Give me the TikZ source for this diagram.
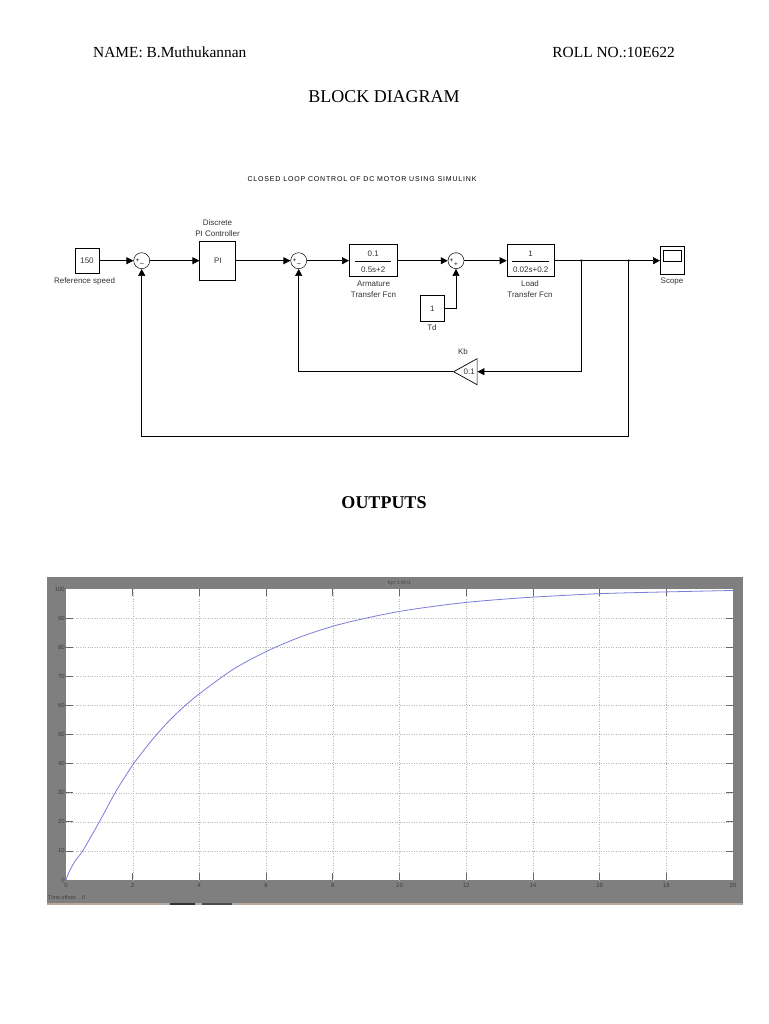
\documentclass[tikz,border=0pt]{standalone}
\usepackage{fontspec}
\setmainfont{Liberation Serif}
\setsansfont{Liberation Sans}
\usetikzlibrary{arrows.meta,shapes.geometric}

\definecolor{scopegrey}{HTML}{7F7F7F}
\definecolor{curveblue}{HTML}{7C7CDA}
\definecolor{stripbrown}{HTML}{B3A79E}

\begin{document}
\begin{tikzpicture}[
  x=1pt, y=-1pt,
  >={Triangle[length=7pt,width=7pt]},
  % ---- Node styles ----
  page/.style={font=\fontsize{15.4}{17}\selectfont, inner sep=0pt},
  heading/.style={font=\fontsize{18}{20}\selectfont, inner sep=0pt},
  label/.style={font=\sffamily\fontsize{8}{11}\selectfont, align=center, inner sep=0pt, text=black!80},
  block/.style={draw, line width=0.7pt, inner sep=0pt, text=black!80, font=\sffamily\fontsize{8}{9}\selectfont},
  sumnode/.style={draw, circle, line width=0.5pt, minimum size=16pt, inner sep=0pt},
  sign/.style={font=\sffamily\fontsize{6.5}{6.5}\selectfont, inner sep=0pt},
  gain/.style={draw, line width=0.7pt, isosceles triangle, shape border rotate=180,
               isosceles triangle stretches, minimum width=26pt, minimum height=23.5pt,
               inner sep=0pt, text=black!80, font=\sffamily\fontsize{8}{9}\selectfont},
  dot/.style={circle, fill, inner sep=0pt, minimum size=2.6pt},
  % ---- Lines ----
  line/.style={->, line width=0.7pt},
  plain/.style={line width=0.7pt},
  % ---- Plot ----
  tick/.style={font=\sffamily\fontsize{6}{6}\selectfont, inner sep=0pt, text=black!75},
  gridline/.style={dotted, line width=0.4pt, draw=black!28},
  tickline/.style={line width=0.7pt, draw=black!60}
]
\useasboundingbox (0,0) rectangle (768,1024);

% ===== Page headings =====
\node[page, anchor=west] (name) at (93,52) {NAME: B.Muthukannan};
\node[page, anchor=east] (roll) at (675,52) {ROLL NO.:10E622};
\node[heading] (blockdiagram) at (384,97) {BLOCK DIAGRAM};
\node[heading] (outputs) at (384,503) {\textbf{OUTPUTS}};

% ===== Simulink model =====
\node[label, text=black, font=\sffamily\fontsize{7}{8}\selectfont\addfontfeature{LetterSpace=12}] (title) at (362,179)
  {CLOSED LOOP CONTROL OF DC MOTOR USING SIMULINK};

% Forward path
\node[block, minimum width=24pt, minimum height=25.5pt] (ref) at (87,260.7) {150};
\node[sumnode] (sumA) at (141.7,260.7) {};
\node[block, minimum width=36pt, minimum height=39pt] (pi) at (217.8,260.7) {PI};
\node[sumnode] (sumB) at (298.7,260.7) {};
\node[block, minimum width=47.7pt, minimum height=32pt] (arm) at (373.2,260.7) {};
\node[sumnode] (sumC) at (456,260.7) {};
\node[block, minimum width=47.3pt, minimum height=32pt] (load) at (530.7,260.7) {};
\node[block, minimum width=23.7pt, minimum height=28pt] (scope) at (672.2,260.7) {};

% Other blocks
\node[block, minimum width=24pt, minimum height=26pt] (td) at (432.3,308.3) {1};
\node[gain, anchor=apex] (kb) at (452.7,371.7) {0.1};

% Signs of the sums
\node[sign] (signAa) at (137.5,260.5) {+};
\node[sign] (signAb) at (142,265) {--};
\node[sign] (signBa) at (294.5,260.5) {+};
\node[sign] (signBb) at (299,265) {--};
\node[sign] (signCa) at (451.5,260.5) {+};
\node[sign] (signCb) at (456,265) {+};

% Transfer functions
\node[block, draw=none] (armnum) at (373.2,253.5) {0.1};
\node[block, draw=none] (armden) at (373.2,269.5) {0.5s+2};
\draw[plain] (355,261) -- (391,261);
\node[block, draw=none] (loadnum) at (530.7,253.5) {1};
\node[block, draw=none] (loadden) at (530.7,269.5) {0.02s+0.2};
\draw[plain] (512,261) -- (549,261);
\draw[plain] (663,250.7) rectangle (681,261.7);

% Block labels
\node[label] (reflabel) at (84.5,281.5) {Reference speed};
\node[label] (pilabel) at (217.5,228.5) {Discrete\\PI Controller};
\node[label] (armlabel) at (373.5,289) {Armature\\Transfer Fcn};
\node[label] (loadlabel) at (530,289) {Load\\Transfer Fcn};
\node[label] (scopelabel) at (672,281.5) {Scope};
\node[label] (tdlabel) at (432,328) {Td};
\node[label] (kblabel) at (463,351.5) {Kb};

% Branch points
\node[dot] (branchA) at (581.3,260.7) {};
\node[dot] (branchB) at (628.7,260.7) {};
\coordinate (outerturn) at (628.7,436);

% ===== Connections =====
\draw[line] (ref) -- (sumA);
\draw[line] (sumA) -- (pi);
\draw[line] (pi) -- (sumB);
\draw[line] (sumB) -- (arm);
\draw[line] (arm) -- (sumC);
\draw[line] (sumC) -- (load);
\draw[line] (load) -- (scope);
\draw[line] (td) -| (sumC);
\draw[line] (branchA) |- (kb.east);
\draw[line] (kb.apex) -| (sumB);
\draw[line] (branchB) -- (outerturn) -| (sumA);

% ===== Scope output =====
\fill[stripbrown] (47,903) rectangle (743,905);
\fill[black!80] (170,903) rectangle (195,905);
\fill[black!70] (202,903) rectangle (232,905);
\node[fill=scopegrey, inner sep=0pt, minimum width=696pt, minimum height=326pt] (frame) at (395,740) {};
\node[fill=white, inner sep=0pt, minimum width=667pt, minimum height=291pt] (axes) at (399.5,734.5) {};
\node[tick, font=\sffamily\fontsize{5}{5}\selectfont] (plottitle) at (399.5,583) {Kp=1 Ki=1};
\node[tick, anchor=west, font=\sffamily\fontsize{5.5}{5.5}\selectfont] (offset) at (48,897.5) {Time offset:\quad 0};

\begin{scope}[shift={(66,880)}, x=33.35pt, y=2.91pt]
  % grid and ticks
  \foreach \t in {2,4,...,18} {
    \draw[gridline] (\t,0) -- (\t,100);
    \draw[tickline] (\t,0) -- (\t,2.4);
    \draw[tickline] (\t,100) -- (\t,97.6);
  }
  \foreach \v in {10,20,...,90} {
    \draw[gridline] (0,\v) -- (20,\v);
    \draw[tickline] (0,\v) -- (0.2,\v);
    \draw[tickline] (20,\v) -- (19.8,\v);
  }
  \foreach \t in {0,2,...,20}
    \node[tick] (xtick\t) at (\t,-1.8) {\t};
  \foreach \v in {0,10,...,100}
    \node[tick, anchor=east] (ytick\v) at (-0.03,\v) {\v};
  % response
  \draw[curveblue, line width=0.8pt, smooth] plot coordinates
    {(0,0) (0.1,3) (0.3,7) (0.5,10) (1,20) (1.5,30.5) (2,39.5) (2.5,47) (3,53.6) (3.5,59.2) (4,64)
     (5,72.3) (6,78.5) (7,83.4) (8,87.2) (9,90) (10,92.3) (11,94) (12,95.4)
     (13,96.4) (14,97.2) (16,98.4) (18,99) (20,99.5)};
\end{scope}

\end{tikzpicture}
\end{document}
